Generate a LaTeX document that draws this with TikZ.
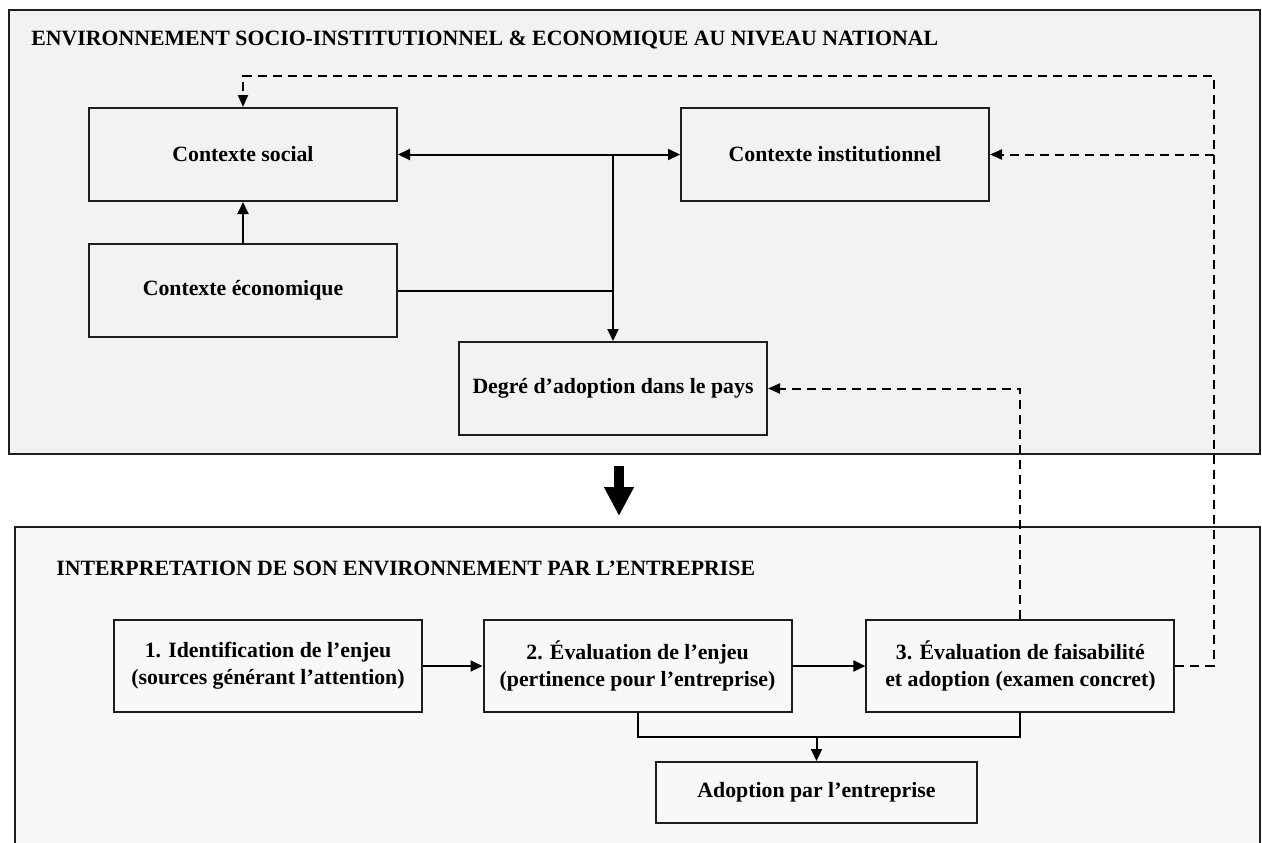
\documentclass[tikz,border=0pt]{standalone}
\usepackage{fontspec}
\setmainfont{Liberation Serif}
\usetikzlibrary{arrows.meta,calc}
\definecolor{topfill}{HTML}{F2F2F2}
\definecolor{botfill}{HTML}{F8F8F8}
\definecolor{edge}{HTML}{1E1E1E}
\tikzset{
  txt/.style={font=\bfseries\fontsize{10.9}{13.3}\selectfont, text=black},
  container/.style={draw=edge, line width=1pt, inner sep=0pt},
  boxnode/.style={txt, draw=edge, line width=1pt, minimum width=154pt, minimum height=46.5pt, align=center, inner sep=0pt},
  title/.style={txt, anchor=base west, inner sep=0pt},
  arr/.style={draw=black, line width=1pt, -{Triangle[length=6pt,width=5.5pt]}},
  plain/.style={draw=black, line width=1pt},
  dasharr/.style={draw=black, line width=1pt, dash pattern=on 4.5pt off 3pt, -{Triangle[length=6pt,width=5pt]}},
  dashline/.style={draw=black, line width=1pt, dash pattern=on 4.5pt off 3pt},
  bigarr/.style={draw=black, line width=5pt, -{Triangle[length=14.5pt,width=14pt]}}
}
\begin{document}
\begin{tikzpicture}[x=0.5pt,y=-0.5pt]
\clip (0,0) rectangle (1262,842);
\fill[white] (0,0) rectangle (1262,842);
% containers
\node[container, fill=topfill, minimum width=625.5pt, minimum height=222pt] (env) at (634.5,232) {};
\node[container, fill=botfill, minimum width=622.5pt, minimum height=186.5pt] (firm) at (637.5,713.5) {};
% titles
\node[title] (t1) at (31,45.5) {ENVIRONNEMENT SOCIO-INSTITUTIONNEL \& ECONOMIQUE AU NIVEAU NATIONAL};
\node[title] (t2) at (56,575) {INTERPRETATION DE SON ENVIRONNEMENT PAR L’ENTREPRISE};
% top boxes
\node[boxnode] (social) at (243,154.5) {Contexte social};
\node[boxnode] (inst) at (835,154.5) {Contexte institutionnel};
\node[boxnode] (eco) at (243,290.5) {Contexte économique};
\node[boxnode] (degre) at (613,388.5) {Degré d’adoption dans le pays};
% bottom boxes
\node[boxnode, minimum height=46pt] (b1) at (268,666) {1. Identification de l’enjeu\\(sources générant l’attention)};
\node[boxnode, minimum height=46pt] (b2) at (637.5,666) {2. Évaluation de l’enjeu\\(pertinence pour l’entreprise)};
\node[boxnode, minimum height=46pt] (b3) at (1020.4,666) {3. Évaluation de faisabilité\\et adoption (examen concret)};
\node[boxnode, minimum width=160.5pt, minimum height=30.5pt] (adopt) at (816.5,792.5) {Adoption par l’entreprise};
% coordinates
\coordinate (j) at (613,154.5);
\coordinate (dr) at (1213.5,76);
\coordinate (m) at (637.5,737);
\coordinate (ba) at (619,466);
\coordinate (bb) at (619,516);
% solid connectors
\draw[arr] (eco.north) -- (social.south);
\draw[arr] (j) -- (social.east);
\draw[arr] (j) -- (inst.west);
\draw[arr] (j) -- (degre.north);
\draw[plain] (eco.east) -- (eco.east -| j);
\draw[arr] (b1.east) -- (b2.west);
\draw[arr] (b2.east) -- (b3.west);
\draw[plain] (b2.south) -- (b2.south |- m) -- (b3.south |- m) -- (b3.south);
\draw[arr] (adopt.north |- m) -- (adopt.north);
% dashed feedback
\draw[dasharr] (b3.east) -| (dr) -| (social.north);
\draw[dasharr] (dr |- inst.east) -- (inst.east);
\draw[dasharr] (b3.north) |- (degre.east);
% big arrow
\draw[bigarr] (ba) -- (bb);
\end{tikzpicture}
\end{document}
